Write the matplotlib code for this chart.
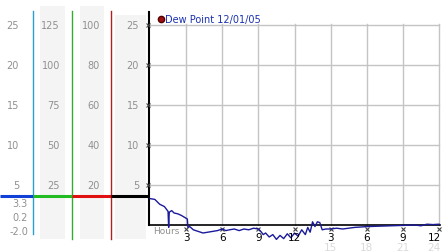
import matplotlib
matplotlib.use("Agg")
import matplotlib.pyplot as plt

# dew point over 24 hours
hours = [0, 0.4, 0.8, 1.2, 1.5, 1.55, 1.6, 1.8, 2.0, 2.3, 2.6, 3.1, 3.15, 3.3,
         3.6, 4.0, 4.4, 4.8, 5.2, 5.6, 6.0, 6.3, 6.6, 7.0, 7.4, 7.8, 8.2, 8.6,
         9.0, 9.2, 9.4, 9.6, 9.9, 10.2, 10.5, 10.8, 11.1, 11.4, 11.7, 12.0,
         12.3, 12.6, 12.9, 13.1, 13.3, 13.5, 13.7, 13.9, 14.1, 14.3, 14.6,
         15.0, 15.5, 16, 17, 18, 19, 20, 21, 22, 22.5, 23, 23.5, 24]
dew = [3.3, 3.2, 2.6, 2.3, 1.7, -0.3, 1.6, 1.8, 1.5, 1.4, 1.2, 0.75, -0.3, -0.2,
       -0.6, -0.8, -1.0, -0.9, -0.8, -0.7, -0.5, -0.7, -0.6, -0.5, -0.7, -0.5, -0.6, -0.4,
       -0.5, -0.8, -1.2, -1.0, -1.5, -1.2, -1.8, -1.3, -1.7, -1.1, -1.6, -1.0,
       -1.4, -0.6, -1.2, -0.3, -0.9, 0.4, -0.2, 0.4, 0.3, -0.6, -0.5,
       -0.5, -0.4, -0.5, -0.3, -0.2, -0.15, -0.1, -0.05, 0.0, -0.1, 0.1, 0.05, 0.1]

yticks = [5, 10, 15, 20, 25]
col2 = ["25", "50", "75", "100", "125"]
col3 = ["20", "40", "60", "80", "100"]
xticks = [3, 6, 9, 12, 15, 18, 21, 24]
xlabels = ["3", "6", "9", "12", "3", "6", "9", "12"]
xlabels24 = ["15", "18", "21", "24"]
stats = ["3.3", "0.2", "-2.0"]

W, H = 442, 253
fig = plt.figure(figsize=(W / 100, H / 100), dpi=100)
fig.patch.set_facecolor("white")

# value <-> pixel: 0 at y=226, 8 px per unit
ylo, yhi = (226 - H) / 8, 226 / 8
def yv(py):
    return (226 - py) / 8

gray = "#909090"
fs = 7

# left scales panel, x in pixels
left = fig.add_axes([0, 0, 149 / W, 1])
left.set_xlim(0, 149)
left.set_ylim(ylo, yhi)
left.axis("off")
for x0, x1, ytop in [(40, 65, 7), (80, 104, 7), (115, 146, 16)]:
    left.fill_between([x0, x1], yv(240), yv(ytop), color="#f4f4f4", lw=0)
left.plot([33, 33], [yv(235), yv(12)], color="#2a9fd0", lw=1)
left.plot([72, 72], [yv(240), yv(12)], color="#33aa33", lw=1)
left.plot([111, 111], [yv(240), yv(12)], color="#b02020", lw=1)
hy = yv(197)
left.plot([0, 33], [hy, hy], color="#1040d8", lw=2.2, solid_capstyle="butt")
left.plot([33, 72], [hy, hy], color="#22bb22", lw=2.2, solid_capstyle="butt")
left.plot([72, 111], [hy, hy], color="#e01010", lw=2.2, solid_capstyle="butt")
left.plot([111, 149], [hy, hy], color="black", lw=2.2, solid_capstyle="butt")
for v, a, b in zip(yticks, col2, col3):
    left.text(19, v, str(v), ha="right", va="center", color=gray, fontsize=fs)
    left.text(60, v, a, ha="right", va="center", color=gray, fontsize=fs)
    left.text(100, v, b, ha="right", va="center", color=gray, fontsize=fs)
    left.text(139, v, str(v), ha="right", va="center", color=gray, fontsize=fs)
for py, s in zip([204, 218, 232], stats):
    left.text(28, yv(py), s, ha="right", va="center", color=gray, fontsize=fs)

# main chart
ax = fig.add_axes([150 / W, 0, 289 / W, 1])
ax.set_xlim(0, 24)
ax.set_ylim(ylo, yhi)
ax.axis("off")
for v in yticks:
    ax.plot([-0.1, 24], [v, v], color="#c4c4c4", lw=1, clip_on=False)
for t in xticks:
    ax.plot([t, t], [0, yv(25)], color="#c4c4c4", lw=1, clip_on=False)
ax.plot([-0.08, -0.08], [0, yv(13)], color="black", lw=1.5, clip_on=False)
ax.plot([-0.1, 24.1], [0, 0], color="black", lw=1.2, clip_on=False)
ax.plot([-0.2] * len(yticks), yticks, "x", color="#444444", ms=2.5, mew=0.8,
        clip_on=False)
ax.plot(xticks, [yv(230)] * len(xticks), "x", color="#444444", ms=2.5, mew=0.8,
        clip_on=False)
for t, s in zip(xticks, xlabels):
    tx = t - 0.4 if t == 24 else t
    ax.text(tx, yv(238.5), s, ha="center", va="center", color="black", fontsize=fs + 0.5)
for t, s in zip(xticks[4:], xlabels24):
    tx = t - 0.4 if t == 24 else t
    ax.text(tx, yv(248.5), s, ha="center", va="center", color="#dadada", fontsize=fs + 0.5)
ax.text(0.3, yv(232), "Hours", ha="left", va="center", color=gray, fontsize=fs - 0.5)

ax.plot(hours, dew, color="#1a1a9a", lw=1, clip_on=False)

ax.plot([0.9], [yv(20)], "o", color="#a01010", mec="#500000", ms=4.5, clip_on=False)
ax.text(1.25, yv(19.5), "Dew Point 12/01/05", ha="left", va="center",
        color="#1a30b0", fontsize=fs)

fig.savefig("out.png", dpi=100)
